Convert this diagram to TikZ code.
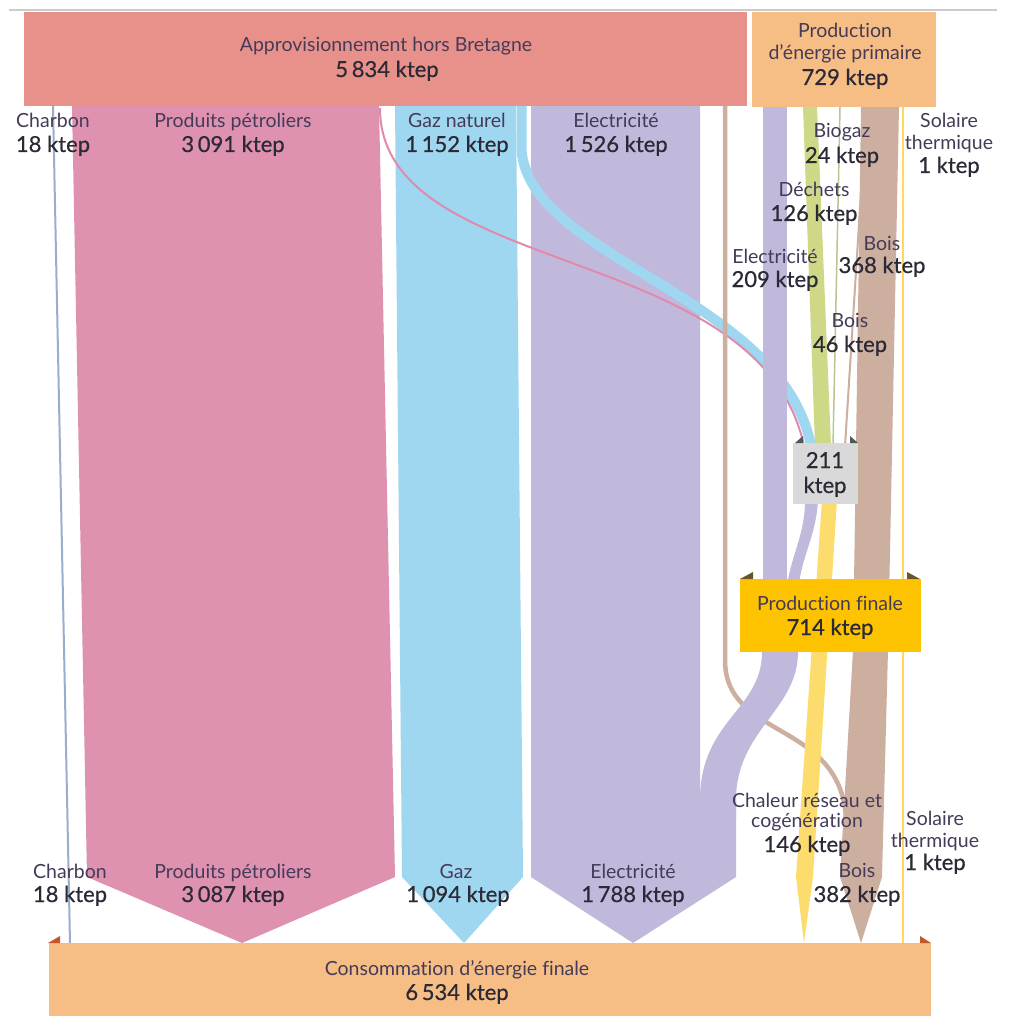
\documentclass[tikz,border=0pt]{standalone}
\usepackage{fontspec}
\setmainfont{Lato}[Ligatures=NoCommon]
\newfontfamily\valfont{Lato}[Ligatures=NoCommon,FakeBold=0.6]
\definecolor{approv}{HTML}{E8918A}
\definecolor{prim}{HTML}{F6BD84}
\definecolor{pinkC}{HTML}{DE92B0}
\definecolor{pinkL}{HTML}{E08AAE}
\definecolor{blueC}{HTML}{9FD7F1}
\definecolor{purpC}{HTML}{C1B9DC}
\definecolor{brownC}{HTML}{CDAFA0}
\definecolor{greenC}{HTML}{CED886}
\definecolor{greenL}{HTML}{B8C68F}
\definecolor{yellC}{HTML}{FDDC6E}
\definecolor{solC}{HTML}{FFD95A}
\definecolor{finC}{HTML}{FDC300}
\definecolor{grayB}{HTML}{D9D9D9}
\definecolor{charC}{HTML}{98AECB}
\definecolor{lblc}{HTML}{453B58}
\definecolor{valc}{HTML}{2A2935}
\definecolor{mkO}{HTML}{C4562A}
\definecolor{mkB}{HTML}{6B5428}
\definecolor{mkG}{HTML}{555555}
\definecolor{topline}{HTML}{CCCCCC}
\tikzset{
  lbl/.style={font=\fontsize{19.5}{19.5}\selectfont, text=lblc, anchor=base, inner sep=0pt},
  val/.style={font=\valfont\fontsize{22}{22}\selectfont, text=valc, anchor=base, inner sep=0pt},
  boxn/.style={anchor=north west, inner sep=0pt, outer sep=0pt, draw=none},
}
\begin{document}
\begin{tikzpicture}[x=1pt,y=-1pt]
\useasboundingbox (0,0) rectangle (1008,1016);
\fill[white] (0,0) rectangle (1008,1016);
\draw[topline, line width=1.5] (9,10) -- (997,10);

% ---------- flows ----------
% charbon
\draw[charC, line width=2] (53,106) -- (70,943);
% produits petroliers
\fill[pinkC] (72,106) -- (379,106) -- (395,877) -- (242,943) -- (87,877) -- cycle;
% gaz
\fill[blueC] (395,106) -- (516,106) -- (523,877) -- (464,943) -- (402,877) -- cycle;
% electricite
\fill[purpC] (531,106) -- (700,106) -- (700,800) -- (736,800) -- (736,877) -- (633,943) -- (531,877) -- cycle;
% gaz to cogeneration
\draw[blueC, line width=10] (521.5,105) -- (521.5,150) .. controls (530,260) and (782,296) .. (811,446);
% petrole to cogeneration
\draw[pinkL, line width=2] (380,108) .. controls (380,280) and (760,240) .. (804,446);
% bois imported
\draw[brownC, line width=4.5] (725,106) -- (725,660) .. controls (725,740) and (840,720) .. (846,818);
% electricite production
\fill[purpC] (763,107) -- (787,107) -- (787,652) -- (763,652) -- cycle;
% electricite from cogeneration
\fill[purpC] (805,500) -- (818,500) .. controls (816,540) and (798,560) .. (798,600) -- (798,655) -- (786,655) -- (786,600) .. controls (787,560) and (805,540) .. (805,500) -- cycle;
% merged electricity band
\fill[purpC] (762,640) -- (798,640) -- (798,652) .. controls (798,710) and (736,730) .. (736,800) -- (736,820) -- (700,820) -- (700,800) .. controls (700,720) and (762,710) .. (762,652) -- cycle;
% dechets (green)
\fill[greenC] (803,107) -- (817,107) -- (831,446) -- (815,446) -- cycle;
% biogaz thin
\draw[greenL, line width=1.5] (840,107) -- (833,446);
% bois 368 column
\fill[brownC] (861,107) -- (899,107) -- (888,650) -- (882,877) -- (861,943) -- (840,877) -- (853,650) -- cycle;
% bois 46 to cogeneration
\draw[brownC, line width=2] (863,160) -- (845,446);
% solaire
\draw[solC, line width=2.5] (903,107) -- (903,943);
% chaleur reseau
\fill[yellC] (822,500) -- (837,500) -- (813,877) -- (804,943) -- (796,877) -- cycle;

% ---------- boxes ----------
\node[boxn, fill=approv, minimum width=723pt, minimum height=94pt] (approv) at (24,12) {};
\node[boxn, fill=prim, minimum width=184pt, minimum height=95pt] (primaire) at (752,12) {};
\node[boxn, fill=grayB, minimum width=65pt, minimum height=61pt] (cogen) at (793,443) {};
\node[boxn, fill=finC, minimum width=181pt, minimum height=73pt] (finale) at (740,579) {};
\node[boxn, fill=prim, minimum width=882pt, minimum height=74pt] (conso) at (49,943) {};

% corner markers
\fill[mkG] (803,436) -- (803,443) -- (795,443) -- cycle;
\fill[mkG] (850,436) -- (850,443) -- (858,443) -- cycle;
\fill[mkB] (753,572) -- (753,579) -- (740,579) -- cycle;
\fill[mkB] (907,572) -- (907,579) -- (920,579) -- cycle;
\fill[mkO] (60,936) -- (60,943) -- (48,943) -- cycle;
\fill[mkO] (920,936) -- (920,943) -- (931,943) -- cycle;

% ---------- texts ----------
\node[lbl] (tApprov) at (386,52) {Approvisionnement hors Bretagne};
\node[val] (vApprov) at (387,77) {5\,834 ktep};
\node[lbl] (tPrim1) at (845,38) {Production};
\node[lbl] (tPrim2) at (845,60) {d’énergie primaire};
\node[val] (vPrim) at (845,85) {729 ktep};

\node[lbl] (tChar1) at (53,128) {Charbon};
\node[val] (vChar1) at (53,152) {18 ktep};
\node[lbl] (tPet1) at (233,128) {Produits pétroliers};
\node[val] (vPet1) at (233,152) {3\,091 ktep};
\node[lbl] (tGaz1) at (457,128) {Gaz naturel};
\node[val] (vGaz1) at (457,152) {1\,152 ktep};
\node[lbl] (tEl1) at (616,128) {Electricité};
\node[val] (vEl1) at (616,152) {1\,526 ktep};

\node[lbl] (tBiog) at (842,138) {Biogaz};
\node[val] (vBiog) at (842,163) {24 ktep};
\node[lbl] (tSol1a) at (949,128) {Solaire};
\node[lbl] (tSol1b) at (949,150) {thermique};
\node[val] (vSol1) at (949,173) {1 ktep};
\node[lbl] (tDech) at (814,197) {Déchets};
\node[val] (vDech) at (814,221) {126 ktep};
\node[lbl] (tEl2) at (775,263) {Electricité};
\node[val] (vEl2) at (775,287) {209 ktep};
\node[lbl] (tBois1) at (882,250) {Bois};
\node[val] (vBois1) at (882,273) {368 ktep};
\node[lbl] (tBois2) at (850,327) {Bois};
\node[val] (vBois2) at (850,352) {46 ktep};

\node[val] (vCog1) at (825,468) {211};
\node[val] (vCog2) at (825,493) {ktep};
\node[lbl] (tFin) at (830,610) {Production finale};
\node[val] (vFin) at (830,635) {714 ktep};

\node[lbl] (tCh1) at (807,807) {Chaleur réseau et};
\node[lbl] (tCh2) at (807,827) {cogénération};
\node[val] (vCh) at (807,852) {146 ktep};
\node[lbl] (tSol2a) at (935,825) {Solaire};
\node[lbl] (tSol2b) at (935,847) {thermique};
\node[val] (vSol2) at (935,870) {1 ktep};
\node[lbl] (tBois3) at (857,877) {Bois};
\node[val] (vBois3) at (857,902) {382 ktep};

\node[lbl] (tChar2) at (70,878) {Charbon};
\node[val] (vChar2) at (70,902) {18 ktep};
\node[lbl] (tPet2) at (233,878) {Produits pétroliers};
\node[val] (vPet2) at (233,902) {3\,087 ktep};
\node[lbl] (tGaz2) at (456,878) {Gaz};
\node[val] (vGaz2) at (458,902) {1\,094 ktep};
\node[lbl] (tEl3) at (633,878) {Electricité};
\node[val] (vEl3) at (633,902) {1\,788 ktep};

\node[lbl] (tConso) at (457,975) {Consommation d’énergie finale};
\node[val] (vConso) at (457,1000) {6\,534 ktep};
\end{tikzpicture}
\end{document}
